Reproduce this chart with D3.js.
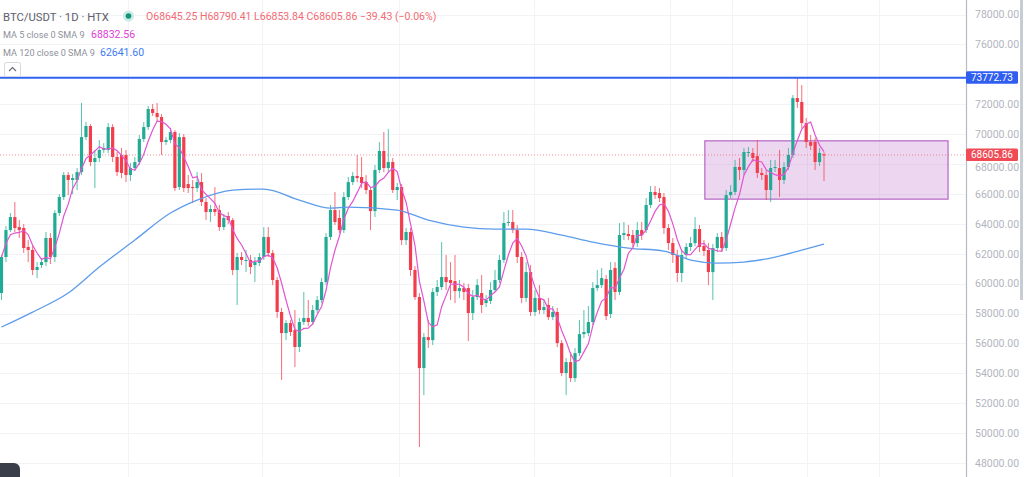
<!DOCTYPE html>
<html><head><meta charset="utf-8">
<script src="https://cdn.jsdelivr.net/npm/d3@7/dist/d3.min.js"></script>
<style>
html,body{margin:0;padding:0;background:#fff;}
svg{display:block;font-family:Roboto,"Noto Sans",sans-serif;}
</style></head>
<body><svg id="c" width="1024" height="477"></svg>
<script>
// ---- data ----
const opens = [59370,61780,63580,64450,63780,63720,62450,62250,60910,61240,
61440,63050,61780,64720,65790,67260,66930,66930,67460,69800,
70540,68130,68400,68940,68940,70470,68470,68600,68600,67260,
67730,68130,69670,70470,71680,71410,71140,69470,69600,70140,
66460,69800,66660,66460,66390,66790,65460,64790,64990,64920,
63780,64520,64250,60910,61780,61510,61580,61240,61380,61780,
63120,62040,60240,58100,56690,57360,56890,55760,57430,57700,
57430,58230,58900,60100,63120,64920,64390,63580,65790,66790,
67200,67130,66790,66260,64850,67600,68870,67730,68130,66260,
66460,62910,63450,60910,59100,54350,56420,56220,59440,59770,
60440,60240,60170,59500,59700,59700,58030,59100,59370,58700,
58840,59570,60240,61580,64050,64120,63580,61780,59040,60770,
58100,59040,58230,58570,57760,58100,56020,54020,54750,53680,
55350,56620,56690,57430,59700,59900,60300,57970,61040,59440,
63250,63320,63250,62710,63580,63580,65260,66130,66060,65790,
63720,62710,61910,60710,61910,62450,62710,63650,62520,62250,
60770,62380,63120,62380,65920,66130,67800,67600,68740,68740,
68530,67400,67260,66260,67730,67730,66930,67800,68600,72410,
72150,70740,69470,69470,68130,68645.25];
const highs = [61910,63850,64720,65460,64250,63980,62910,62580,61440,61710,
63450,63380,64920,65990,67460,67460,67330,67730,72080,70810,
70670,68940,69600,69400,70740,70670,68800,69070,68940,68070,
68470,69940,70810,71880,72010,72080,71340,69800,70410,70270,
70070,70000,67260,66930,67460,67400,65720,65260,66460,65260,
64650,64790,64390,62050,62110,62250,61910,61780,62050,63780,
63780,62250,60440,58370,57560,57560,58230,57700,59440,58900,
58570,59170,60370,63380,65260,66130,64920,66130,67130,67460,
68600,68470,67260,66460,67930,69470,70140,70340,68400,66730,
66660,63720,63720,61170,59370,56690,57560,59700,60240,62780,
61910,61440,61910,60240,60040,59970,59570,60300,60570,59230,
60100,60910,61910,64790,64920,64920,63920,62110,61440,61240,
59570,59900,58900,59040,58500,58370,56220,55020,55420,55690,
57560,58230,58500,60100,60910,61040,60570,61440,61440,64050,
64120,63920,63580,64120,64120,65720,66530,66530,66390,66060,
63980,63050,62250,62250,62710,63120,64450,63920,62910,62710,
62650,63380,63450,66260,66590,68270,68400,69070,69140,69070,
69600,67730,67600,68270,68270,68940,68130,69070,72610,73750,
73280,71080,69940,69740,69070,68790.41];
const lows = [58900,61440,63450,63450,63050,62050,61440,60570,60370,61040,
61170,61310,61440,64520,65590,65920,65990,66260,67260,69600,
67860,66390,68130,68730,68730,68130,67200,67060,66790,66860,
67530,67930,69470,70270,71210,70810,68600,69270,69400,66190,
66260,66130,66060,65390,66130,65190,64250,64120,64520,63520,
63580,63980,60570,58570,61240,60770,60640,60100,61170,61580,
61780,59900,57700,53550,56220,56490,54420,55420,57230,57160,
57230,58030,58700,59900,62910,63920,63380,63380,65590,66590,
66790,66390,65990,63580,64450,67400,67460,67460,66060,65590,
62580,62580,60510,58900,49070,52540,55690,55890,59170,59570,
59570,58900,58700,59040,58900,56160,57560,58900,58030,58430,
58630,59440,60040,61380,63850,63380,61380,58700,58770,57830,
57830,57960,57960,57560,57560,55750,53810,52540,53420,53420,
55150,56360,56490,57230,59500,59700,57560,57700,58900,59230,
62910,62910,62450,62450,62910,63380,65050,65660,65460,63320,
62250,61380,60100,60100,61710,62180,62510,62110,61840,59900,
58900,62110,62110,62180,65720,65920,66930,67260,68470,68130,
67060,66930,65590,65460,67460,65790,66660,67600,68400,71740,
70410,69070,68940,67600,67860,66853.84];
const closes = [61780,63580,64450,63720,63580,62380,62250,60910,61110,61440,
63050,61780,64720,65790,67260,66930,67060,67460,69800,70540,
68130,68400,68940,69070,70470,68470,67460,67400,67260,67730,
68130,69670,70470,71680,71410,71140,69470,69600,70140,66390,
69800,66390,66390,66390,66790,65460,64790,64990,64790,63780,
64390,64250,60910,61780,61580,61580,61110,61440,61780,63120,
62040,60240,58100,56690,57360,56760,55760,57430,57700,57430,
58230,58900,60100,63120,64920,64120,63580,65790,66790,67200,
67060,66730,66260,64850,67600,68870,67730,68130,66260,66460,
62910,63450,60910,59100,54350,56420,56220,59440,59770,60440,
60100,60040,59500,59700,59440,58030,59100,59900,58570,58900,
59570,60240,61580,64050,64120,63580,61780,59040,60770,58100,
59040,58230,58430,57760,58100,56020,54020,54750,53680,55350,
56620,56760,57430,59700,59900,60370,57830,60910,59440,63250,
63380,63180,62710,63580,63250,65260,66130,65920,65720,63720,
62710,61910,60710,61910,62450,62710,63650,62450,62180,60770,
62380,63120,62380,65920,66130,67800,67600,68800,68800,68400,
67400,67260,66260,67730,67800,66930,67800,68600,72410,72150,
70740,69470,69220,68130,68740,68605.86];
// MA 120 read at sampled bar indices
const ma120Index = [0,7,15,22,30,38,44,52,59,67,74,78,89,96,104,111,118,126,133,141,149,155,161,167,174,180,185];
const ma120Value = [57094,58097,59368,61108,62914,64720,65590,66259,66326,65590,65055,65122,64921,64252,63784,63650,63650,63249,62780,62379,62178,61576,61376,61443,61777,62245,62641.6];
const priceTicks = [78000,76000,72000,70000,68000,66000,64000,62000,60000,58000,56000,54000,52000,50000,48000];
const hLineValue = 73772.73;
const lastClose = 68605.86;
const zoneIndex = [158.2, 212.9];
const zonePrice = [65650, 69550];
const gridIndex = [28.5, 58.6, 89.5, 119.7, 150.3, 164.3, 181.2, 197.4];
const legendTitle = "BTC/USDT · 1D · HTX";
const legendOHLC = "O68645.25 H68790.41 L66853.84 C68605.86 \u221239.43 (\u22120.06%)";
const ma5Label = "MA 5 close 0 SMA 9", ma5Value = "68832.56";
const ma120Label = "MA 120 close 0 SMA 9", ma120Text = "62641.60";

// ---- drawing ----
const N = closes.length;
const W = 1024, H = 477, plotRight = 966;
const svg = d3.select("#c");
const x = d3.scaleLinear().domain([0, N - 1]).range([1.5, 824]);
const y = d3.scaleLinear().domain([48000, 78000]).range([463, 14.5]);
const up = "#22ab94", down = "#f23d4c";

// grid
svg.append("g").selectAll("line").data(priceTicks).join("line")
  .attr("x1", 0).attr("x2", plotRight).attr("y1", d => Math.round(y(d)) + 0.5).attr("y2", d => Math.round(y(d)) + 0.5)
  .attr("stroke", "#f2f3f6").attr("stroke-width", 1);
svg.append("g").selectAll("line").data(gridIndex).join("line")
  .attr("x1", d => Math.round(x(d)) + 0.5).attr("x2", d => Math.round(x(d)) + 0.5).attr("y1", 0).attr("y2", H)
  .attr("stroke", "#f2f3f6").attr("stroke-width", 1);

// zone rectangle
svg.append("rect")
  .attr("x", x(zoneIndex[0])).attr("y", y(zonePrice[1]))
  .attr("width", x(zoneIndex[1]) - x(zoneIndex[0])).attr("height", y(zonePrice[0]) - y(zonePrice[1]))
  .attr("fill", "rgba(171, 71, 188, 0.22)").attr("stroke", "#b565c4").attr("stroke-width", 1.2);

// last price dotted line
svg.append("line").attr("x1", 0).attr("x2", plotRight)
  .attr("y1", y(lastClose)).attr("y2", y(lastClose))
  .attr("stroke", "#f2606a").attr("stroke-opacity", 0.7).attr("stroke-width", 1).attr("stroke-dasharray", "1,2");

// candles
const g = svg.append("g");
const idx = d3.range(N);
g.selectAll("line.wick").data(idx).join("line").attr("class", "wick")
  .attr("x1", i => x(i)).attr("x2", i => x(i))
  .attr("y1", i => y(highs[i])).attr("y2", i => y(lows[i]))
  .attr("stroke", i => closes[i] >= opens[i] ? up : down).attr("stroke-opacity", 0.75).attr("stroke-width", 1);
g.selectAll("rect.body").data(idx).join("rect").attr("class", "body")
  .attr("x", i => x(i) - 1.6).attr("width", 3.2)
  .attr("y", i => y(Math.max(opens[i], closes[i])))
  .attr("height", i => Math.max(1, Math.abs(y(opens[i]) - y(closes[i]))))
  .attr("fill", i => closes[i] >= opens[i] ? up : down);

// MA 120
const ma120Line = d3.line().x((d, k) => x(ma120Index[k])).y(d => y(d)).curve(d3.curveMonotoneX);
svg.append("path").attr("d", ma120Line(ma120Value)).attr("fill", "none")
  .attr("stroke", "#5d9cec").attr("stroke-width", 1.3);

// MA 5 from closes
const ma5 = idx.map(i => d3.mean(closes.slice(Math.max(0, i - 4), i + 1)));
const ma5Line = d3.line().x((d, i) => x(i)).y(d => y(d));
svg.append("path").attr("d", ma5Line(ma5)).attr("fill", "none")
  .attr("stroke", "#e254d2").attr("stroke-width", 1.2);

// horizontal level line
svg.append("line").attr("x1", 0).attr("x2", plotRight)
  .attr("y1", y(hLineValue)).attr("y2", y(hLineValue))
  .attr("stroke", "#3062f0").attr("stroke-width", 2);

// small collapse button
svg.append("rect").attr("x", 4.5).attr("y", 62.5).attr("width", 16).attr("height", 14).attr("rx", 2)
  .attr("fill", "#fff").attr("stroke", "#d6d8de");
svg.append("path").attr("d", "M9,71 L12.5,67.5 L16,71").attr("fill", "none").attr("stroke", "#6a6d78").attr("stroke-width", 1.2);

// price axis
svg.append("rect").attr("x", plotRight).attr("y", 0).attr("width", W - plotRight).attr("height", H).attr("fill", "#fff");
svg.append("line").attr("x1", plotRight + 0.5).attr("x2", plotRight + 0.5).attr("y1", 0).attr("y2", H)
  .attr("stroke", "#b8bbc3").attr("stroke-width", 1.2);
const yAxis = d3.axisRight(y).tickValues(priceTicks).tickSize(0).tickPadding(9).tickFormat(d3.format(".2f"));
const ag = svg.append("g").attr("transform", `translate(${plotRight},0)`).call(yAxis);
ag.select(".domain").remove();
ag.selectAll("text").attr("fill", "#b2b5be").style("font-size", "10.5px").style("font-family", "Roboto, sans-serif")
  .attr("dy", d => d === 68000 ? "0.62em" : "0.32em");
svg.append("rect").attr("x", 1020).attr("y", 0).attr("width", 3).attr("height", 300).attr("fill", "#c9ccd2");

// price labels
function tag(v, color) {
  const yy = y(v);
  svg.append("rect").attr("x", plotRight).attr("y", yy - 6.5).attr("width", 52).attr("height", 12.5).attr("rx", 1.5).attr("fill", color);
  svg.append("text").attr("x", plotRight + 26).attr("y", yy).attr("dy", "0.33em").attr("text-anchor", "middle")
    .attr("fill", "#fff").style("font-size", "10px").text(d3.format(".2f")(v));
}
tag(hLineValue, "#2f5ef0");
tag(lastClose, "#f04a55");

// legend
const lg = svg.append("g");
lg.append("text").attr("x", 3).attr("y", 20.5).attr("fill", "#5d606b").style("font-size", "11.3px").text(legendTitle);
lg.append("circle").attr("cx", 128.5).attr("cy", 16).attr("r", 5.5).attr("fill", "#c9ebe3");
lg.append("circle").attr("cx", 128.5).attr("cy", 16).attr("r", 2.8).attr("fill", "#10947a");
lg.append("text").attr("x", 146).attr("y", 20).attr("fill", "#f26b74").style("font-size", "10.5px").text(legendOHLC);
lg.append("text").attr("x", 3).attr("y", 38).attr("fill", "#8e919a").style("font-size", "9.1px").text(ma5Label);
lg.append("text").attr("x", 91).attr("y", 38).attr("fill", "#e040d8").style("font-size", "10.5px").text(ma5Value);
lg.append("text").attr("x", 3).attr("y", 56).attr("fill", "#8e919a").style("font-size", "9.1px").text(ma120Label);
lg.append("text").attr("x", 100).attr("y", 56).attr("fill", "#3d7cf0").style("font-size", "10.5px").text(ma120Text);

// corner logo
svg.append("rect").attr("x", -10).attr("y", 463).attr("width", 30).attr("height", 24).attr("rx", 6).attr("fill", "#3a3e4a");
</script></body></html>
